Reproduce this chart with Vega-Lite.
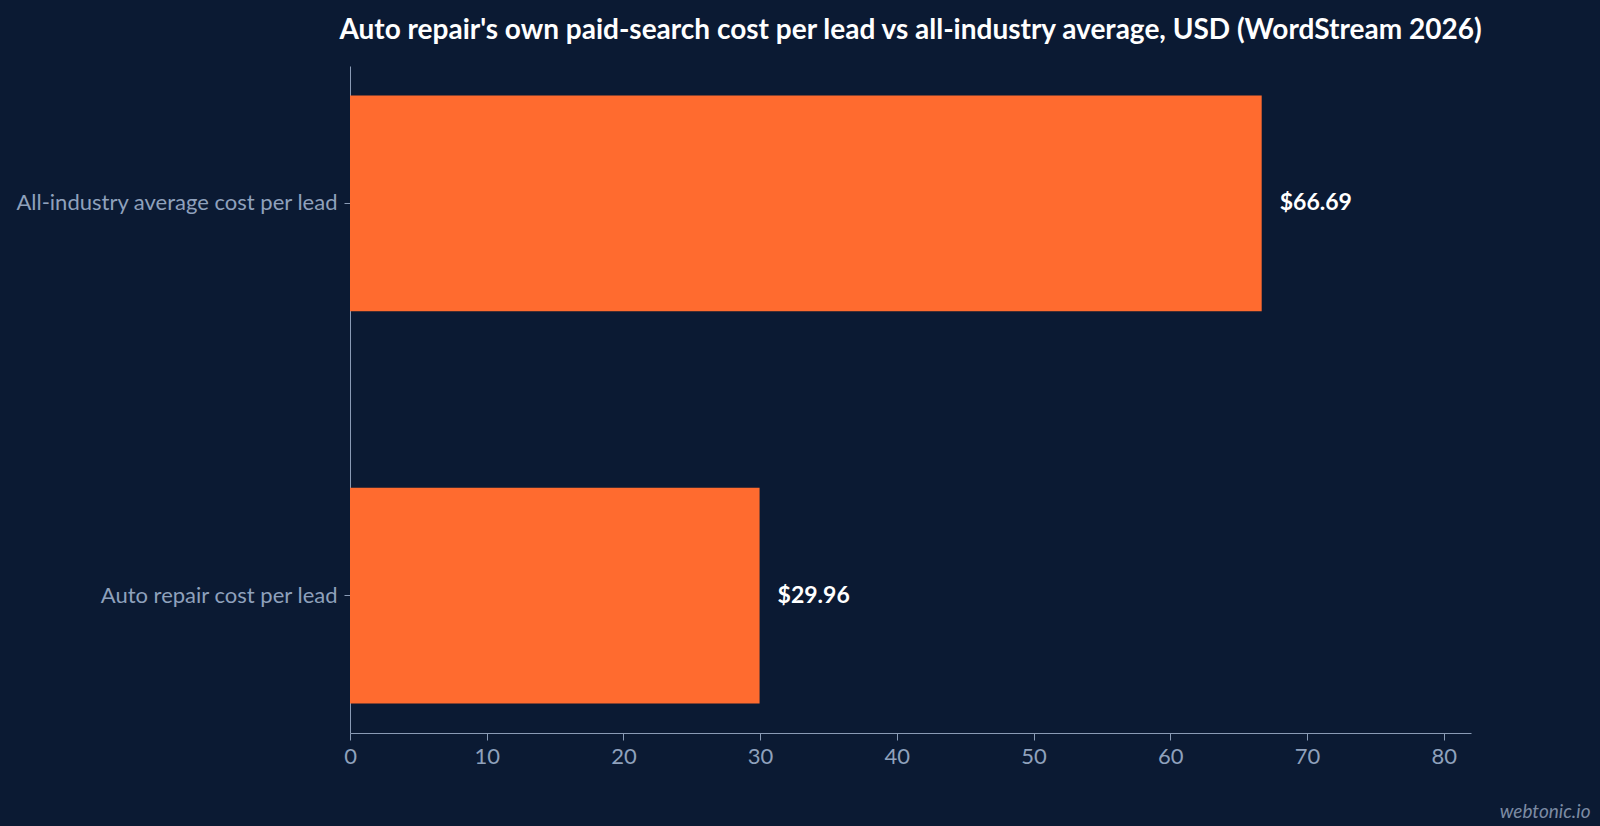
{
  "$schema": "https://vega.github.io/schema/vega-lite/v6.json",
  "background": "#0b1a33",
  "autosize": {"type": "none"},
  "padding": {"left": 350, "top": 66, "right": 129, "bottom": 93},
  "width": 1121,
  "height": 667,
  "title": {
    "text": "Auto repair's own paid-search cost per lead vs all-industry average, USD (WordStream 2026)",
    "anchor": "middle",
    "font": "Lato",
    "fontSize": 28,
    "fontWeight": "bold",
    "color": "#ffffff",
    "offset": 21
  },
  "data": {
    "values": [
      {"metric": "All-industry average cost per lead", "cost": 66.69, "label": "$66.69"},
      {"metric": "Auto repair cost per lead", "cost": 29.96, "label": "$29.96"}
    ]
  },
  "config": {
    "view": {"stroke": null},
    "font": "Lato",
    "axis": {
      "labelFont": "Lato",
      "labelColor": "#8fa1bc",
      "domainColor": "#8a9bb5",
      "tickColor": "#8a9bb5",
      "grid": false
    }
  },
  "encoding": {
    "y": {
      "field": "metric",
      "type": "nominal",
      "sort": null,
      "title": null,
      "scale": {"paddingInner": 0.45, "paddingOuter": 0.075},
      "axis": {"labelFontSize": 22, "labelPadding": 7, "tickSize": 6, "labelLimit": 400}
    },
    "x": {
      "field": "cost",
      "type": "quantitative",
      "scale": {"domain": [0, 82], "nice": false},
      "title": "webtonic.io",
      "axis": {
        "values": [0, 10, 20, 30, 40, 50, 60, 70, 80],
        "labelFontSize": 22,
        "labelFlush": false,
        "tickSize": 7,
        "labelPadding": 6,
        "titleFont": "Lato",
        "titleFontSize": 19,
        "titleFontStyle": "italic",
        "titleFontWeight": "normal",
        "titleColor": "#7c8ba3",
        "titleAnchor": "end",
        "titleAlign": "right",
        "titleBaseline": "middle",
        "titleX": 1240,
        "titleY": 78
      }
    }
  },
  "layer": [
    {"mark": {"type": "bar", "color": "#ff6b2f"}},
    {
      "mark": {"type": "text", "align": "left", "dx": 18, "font": "Lato", "fontSize": 23, "fontWeight": "bold", "color": "#ffffff"},
      "encoding": {"text": {"field": "label"}}
    }
  ]
}
